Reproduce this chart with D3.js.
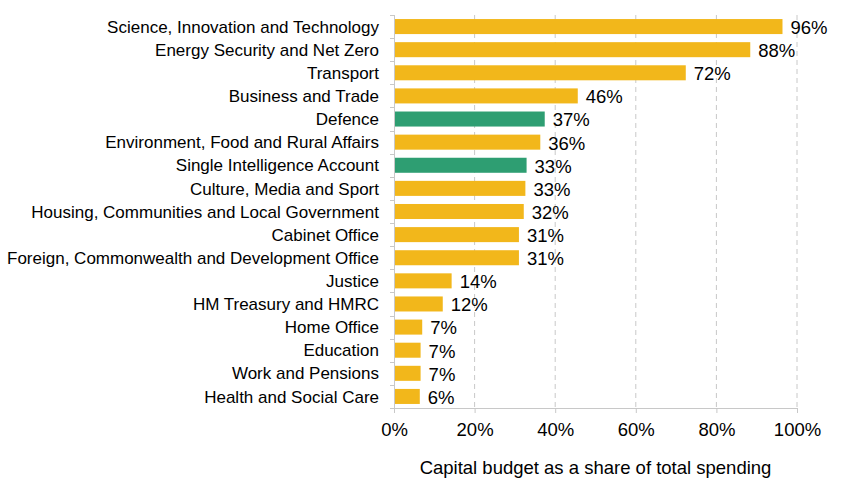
<!DOCTYPE html>
<html lang="en">
<head>
  <meta charset="utf-8">
  <title>Capital budget share</title>
  <script src="https://d3js.org/d3.v7.min.js"></script>
  <style>
    body { margin: 0; background: #fff; }
    text { font-family: Arial, "Liberation Sans", sans-serif; fill: #000; }
  </style>
</head>
<body>
  <script>
    // departments, top to bottom
    var departments = [
      'Science, Innovation and Technology',
      'Energy Security and Net Zero',
      'Transport',
      'Business and Trade',
      'Defence',
      'Environment, Food and Rural Affairs',
      'Single Intelligence Account',
      'Culture, Media and Sport',
      'Housing, Communities and Local Government',
      'Cabinet Office',
      'Foreign, Commonwealth and Development Office',
      'Justice',
      'HM Treasury and HMRC',
      'Home Office',
      'Education',
      'Work and Pensions',
      'Health and Social Care'
    ];
    var shares = [96.4, 88.4, 72.4, 45.6, 37.4, 36.3, 32.9, 32.6, 32.2, 31.0, 31.0, 14.3, 12.1, 7.0, 6.6, 6.6, 6.4];
    var defenceRelated = ['Defence', 'Single Intelligence Account'];
    var xTicks = [0, 20, 40, 60, 80, 100];
    var xTitle = 'Capital budget as a share of total spending';

    var w = 848, h = 492;
    var margin = { top: 15, right: 51, bottom: 84, left: 394 };
    var innerW = w - margin.left - margin.right;
    var innerH = h - margin.top - margin.bottom;
    var fsCat = '17px', fsBig = '18.5px';

    var svg = d3.select('body').append('svg')
      .attr('width', w)
      .attr('height', h)
      .append('g')
      .attr('transform', 'translate(' + [margin.left, margin.top] + ')');

    var data = departments.map(function(d, i) { return { name: d, value: shares[i] }; });

    var x = d3.scaleLinear().domain([0, 100]).range([0, innerW]);
    var y = d3.scaleBand().domain(departments).range([0, innerH]).paddingInner(0.35).paddingOuter(0.175);
    var step = innerH / departments.length;

    // dashed gridlines
    svg.selectAll('.grid')
      .data(xTicks.slice(1))
    .enter().append('line')
      .attr('class', 'grid')
      .attr('x1', function(d){return x(d);})
      .attr('x2', function(d){return x(d);})
      .attr('y1', 0)
      .attr('y2', innerH)
      .style('stroke', '#c8c8c8')
      .style('stroke-width', 1)
      .style('stroke-dasharray', '5,4');

    // bars
    svg.selectAll('.bar')
      .data(data)
    .enter().append('rect')
      .attr('class', 'bar')
      .attr('x', 0)
      .attr('y', function(d){return y(d.name);})
      .attr('width', function(d){return x(d.value);})
      .attr('height', y.bandwidth())
      .style('fill', function(d){ return defenceRelated.indexOf(d.name) >= 0 ? '#2e9e72' : '#f2b71b'; });

    // value labels
    svg.selectAll('.val')
      .data(data)
    .enter().append('text')
      .attr('class', 'val')
      .attr('x', function(d){return x(d.value) + 8;})
      .attr('y', function(d){return y(d.name) + y.bandwidth() / 2;})
      .attr('dy', '0.4em')
      .style('font-size', fsBig)
      .text(function(d){return Math.round(d.value) + '%';});

    // left axis (ticks at band boundaries)
    svg.append('line')
      .attr('x1', 0.5).attr('x2', 0.5).attr('y1', 0).attr('y2', innerH)
      .style('stroke', '#c8c8c8');
    svg.selectAll('.ytick')
      .data(d3.range(departments.length + 1))
    .enter().append('line')
      .attr('class', 'ytick')
      .attr('x1', -4).attr('x2', 0)
      .attr('y1', function(i){return Math.round(i * step) + 0.5;})
      .attr('y2', function(i){return Math.round(i * step) + 0.5;})
      .style('stroke', '#c8c8c8');
    svg.selectAll('.cat')
      .data(departments)
    .enter().append('text')
      .attr('class', 'cat')
      .attr('x', -15)
      .attr('y', function(d){return y(d) + y.bandwidth() / 2;})
      .attr('dy', '0.36em')
      .attr('text-anchor', 'end')
      .style('font-size', fsCat)
      .text(function(d){return d;});

    // bottom axis
    var xAxis = svg.append('g')
      .attr('transform', 'translate(0,' + innerH + ')')
      .call(d3.axisBottom(x).tickValues(xTicks).tickSize(5).tickPadding(10)
        .tickFormat(function(d){return d + '%';}));
    xAxis.select('.domain').style('stroke', '#c8c8c8');
    xAxis.selectAll('.tick line').style('stroke', '#c8c8c8');
    xAxis.selectAll('.tick text')
      .style('font-size', fsBig)
      .style('font-family', 'Arial, "Liberation Sans", sans-serif')
      .style('fill', '#000');

    svg.append('text')
      .attr('x', innerW / 2)
      .attr('y', innerH + 66)
      .attr('text-anchor', 'middle')
      .style('font-size', fsBig)
      .text(xTitle);
  </script>
</body>
</html>
